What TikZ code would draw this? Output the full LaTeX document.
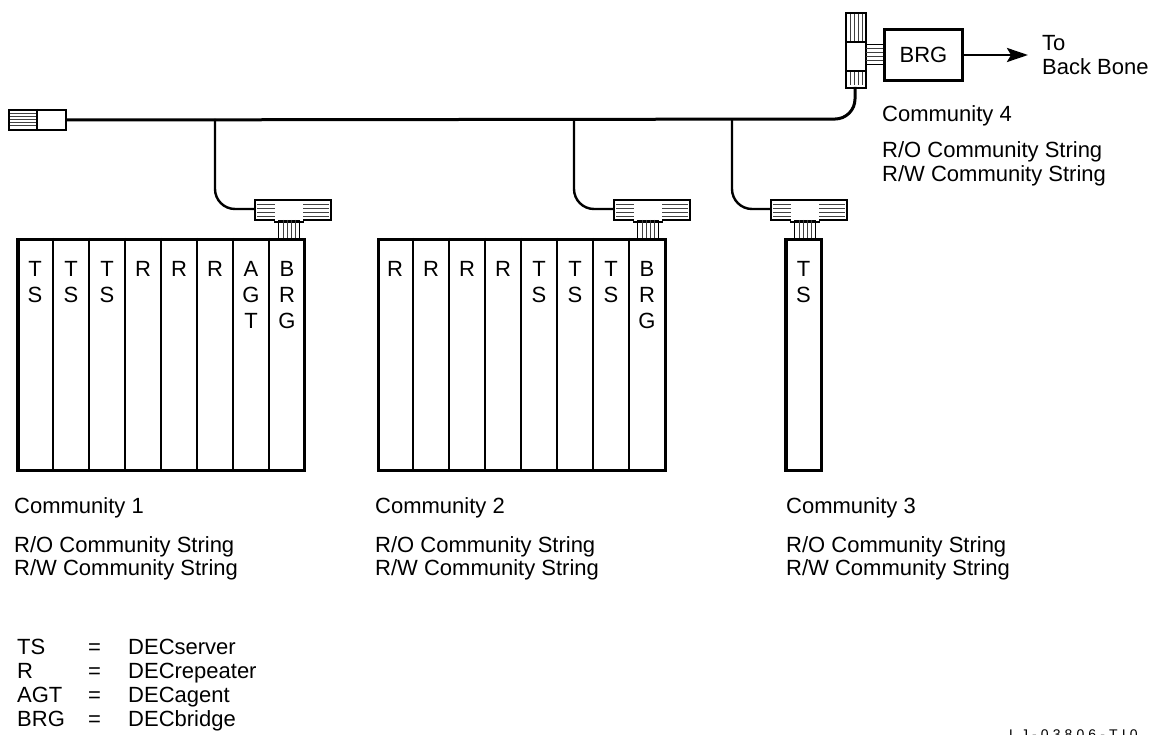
\documentclass[tikz,border=0pt]{standalone}
\usepackage{fontspec}
\setmainfont{Liberation Sans}
\usetikzlibrary{arrows.meta,calc}
\tikzset{
  x=1pt,y=-1pt,
  txt/.style={anchor=base west,inner sep=0pt,font=\fontsize{22}{24}\selectfont},
  slotlbl/.style={align=center,anchor=north,inner sep=0pt,font=\fontsize{22}{26}\selectfont},
  rack/.style={draw,line width=3.5pt,rectangle,inner sep=0pt,minimum height=230.5pt,anchor=north west},
  part/.style={draw,line width=2pt,rectangle,inner sep=0pt,fill=white,anchor=north west},
  hatch/.style={line width=0.9pt,black!75},
  slotline/.style={line width=1.5pt},
  bus/.style={line width=3pt},
  branch/.style={line width=2.4pt,rounded corners=20pt},
}
\newcommand{\HorizT}[2]{% name, x of left edge of the bar
  \foreach \yy in {204,208,212,216}{
    \draw[hatch] (#2+2,\yy) -- (#2+74,\yy);}
  \draw[line width=2pt] (#2,200) rectangle (#2+76,220);
  \node[part,minimum width=28pt,minimum height=20pt,draw=none] (#1c) at (#2+19,200) {};
  \draw[line width=2pt] (#1c.north west) -- (#1c.north east) (#1c.south west) -- (#1c.south east);
  \node[part,minimum width=21pt,minimum height=18pt,fill=none,line width=1.2pt] (#1s) at (#2+23,220) {};
  \foreach \xx in {5,9,13,17}{
    \draw[hatch] (#2+23+\xx,220) -- (#2+23+\xx,238);}
  \coordinate (#1w) at (#2,210);
}
\begin{document}
\begin{tikzpicture}
\useasboundingbox (0,0) rectangle (1152,735);
\clip (0,0) rectangle (1152,735);

% racks
\node[rack,minimum width=286.5pt] (rack1) at (16,238) {};
\foreach \n/\xx in {1/53,2/89,3/125,4/161,5/197,6/233,7/269}{
  \draw[slotline] (\xx,238) -- (\xx,470);}
\foreach \xx/\t in {35/T\\S,71/T\\S,107/T\\S,143/R,179/R,215/R,251/A\\G\\T,287/B\\R\\G}{
  \node[slotlbl] at (\xx,261.5) {\t};}
\node[rack,minimum width=287pt] (rack2) at (376.5,238) {};
\foreach \xx in {413,449,485,521,557,593,629}{
  \draw[slotline] (\xx,238) -- (\xx,470);}
\foreach \xx/\t in {395/R,431/R,467/R,503/R,539/T\\S,575/T\\S,611/T\\S,647/B\\R\\G}{
  \node[slotlbl] at (\xx,261.5) {\t};}
\node[rack,minimum width=35.5pt] (rack3) at (784,238) {};
\node[slotlbl] at (803.5,261.5) {T\\S};

% T connectors
\HorizT{ta}{255}
\HorizT{tb}{614}
\HorizT{tc}{771}

% vertical T at top right
\foreach \xx in {850,854,858,862}{
  \draw[hatch] (\xx,14) -- (\xx,85);}
\node[part,minimum width=20pt,minimum height=27pt,draw=none] (tdc) at (845,42) {};
\node[part,minimum width=20pt,minimum height=75pt,fill=none] (td) at (845,12) {};
\draw[line width=2pt] (tdc.north west) -- (tdc.north east) (tdc.south west) -- (tdc.south east);
\foreach \yy in {48,52,56,60}{
  \draw[hatch] (865,\yy) -- (884,\yy);}
\node[part,minimum width=19pt,minimum height=20pt,fill=none,line width=1.2pt] (tds) at (865,44) {};

% bridge
\node[draw,line width=3pt,rectangle,minimum width=78pt,minimum height=51pt,inner sep=0pt,
  font=\fontsize{22}{24}\selectfont] (brg) at (923.5,55) {BRG};
\coordinate (arrowend) at (1028,55);
\draw[line width=2.6pt,-{Stealth[length=21pt,width=14pt,inset=4pt]}] (brg.east) -- (arrowend);

% cap at the free end
\foreach \yy in {113,116,119,122,125}{
  \draw[line width=0.9pt,black!75] (9,\yy) -- (37,\yy);}
\node[part,minimum width=57pt,minimum height=20pt,fill=none] (cap) at (8,109) {};
\draw[line width=1.5pt] (37,109) -- (37,129);

% bus and branches
\coordinate (ja) at (215,119);
\coordinate (jb) at (574,119);
\coordinate (jc) at (732,119);
\draw[bus,rounded corners=20pt] (cap.east) -- (855,119) -- (855,87);
\draw[branch] (ja) -- (215,209) -- (taw |- 0,209);
\draw[branch] (jb) -- (574,209) -- (tbw |- 0,209);
\draw[branch] (jc) -- (732,209) -- (tcw |- 0,209);

% texts
\node[txt] at (1042,51) {To};
\node[txt] at (1042,75) {Back Bone};
\node[txt] at (882,122) {Community 4};
\node[txt] at (882,158) {R/O Community String};
\node[txt] at (882,182) {R/W Community String};
\node[txt] at (14,513) {Community 1};
\node[txt] at (14,552) {R/O Community String};
\node[txt] at (14,575) {R/W Community String};
\node[txt] at (375,513) {Community 2};
\node[txt] at (375,552) {R/O Community String};
\node[txt] at (375,575) {R/W Community String};
\node[txt] at (786,513) {Community 3};
\node[txt] at (786,552) {R/O Community String};
\node[txt] at (786,575) {R/W Community String};

\node[txt] at (17,654) {TS};
\node[txt] at (88,654) {=};
\node[txt] at (128,654) {DECserver};
\node[txt] at (17,678) {R};
\node[txt] at (88,678) {=};
\node[txt] at (128,678) {DECrepeater};
\node[txt] at (17,702) {AGT};
\node[txt] at (88,702) {=};
\node[txt] at (128,702) {DECagent};
\node[txt] at (17,726) {BRG};
\node[txt] at (88,726) {=};
\node[txt] at (128,726) {DECbridge};

\newcommand{\gp}{\kern4.1pt}
\node[txt,font=\fontsize{14}{14}\selectfont] at (1009,739) {L\gp J\gp -\gp 0\gp 3\gp 8\gp 0\gp 6\gp -\gp T\gp I\gp 0};
\end{tikzpicture}
\end{document}
